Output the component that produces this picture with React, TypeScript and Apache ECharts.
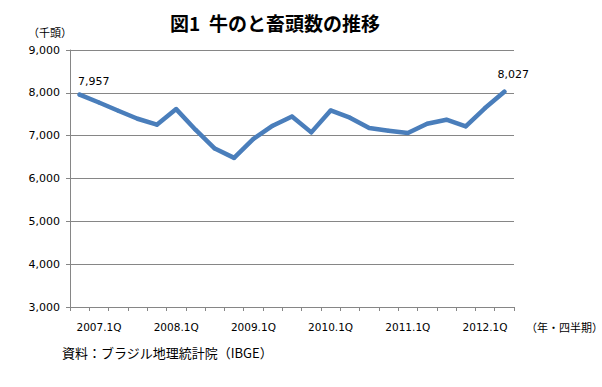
import React, { useEffect, useRef } from "react";
import * as echarts from "echarts";

const categories = [
  "2006.4Q",
  "2007.1Q", "2007.2Q", "2007.3Q", "2007.4Q",
  "2008.1Q", "2008.2Q", "2008.3Q", "2008.4Q",
  "2009.1Q", "2009.2Q", "2009.3Q", "2009.4Q",
  "2010.1Q", "2010.2Q", "2010.3Q", "2010.4Q",
  "2011.1Q", "2011.2Q", "2011.3Q", "2011.4Q",
  "2012.1Q", "2012.2Q",
];

const slaughter = [
  7957, 7774, 7581, 7395, 7256, 7620, 7140, 6700, 6481, 6923, 7233, 7449,
  7077, 7589, 7420, 7179, 7116, 7063, 7279, 7372, 7217, 7644, 8027,
];

const yTicks = { min: 3000, max: 9000, step: 1000 };

const titleText = "図1  牛のと畜頭数の推移";
const yUnit = "（千頭）";
const xUnit = "（年・四半期）";
const sourceText = "資料：ブラジル地理統計院（IBGE）";

const NUM_FONT = "'DejaVu Sans', sans-serif";
const CJK_FONT = "'Noto Sans CJK JP', sans-serif";

export default function App() {
  const ref = useRef<HTMLDivElement>(null);
  useEffect(() => {
    if (!ref.current) return;
    const chart = echarts.init(ref.current, null, { renderer: "svg" });
    const last = slaughter.length - 1;
    const fmt = (v: number) => v.toLocaleString("en-US");
    const labelBase = {
      show: true,
      position: "top",
      formatter: (p: any) => fmt(p.value),
      fontFamily: NUM_FONT,
      fontSize: 11,
      color: "#000",
      distance: 6,
    };
    const data = slaughter.map((v, i) => {
      if (i === 0) {
        return { value: v, label: { ...labelBase, offset: [14, 0] } };
      }
      if (i === last) {
        return { value: v, label: { ...labelBase, offset: [9, -4] } };
      }
      return v;
    });
    chart.setOption({
      animation: false,
      backgroundColor: "#ffffff",
      title: {
        text: titleText,
        left: 270,
        textAlign: "center",
        top: 8,
        textStyle: {
          fontFamily: CJK_FONT,
          fontSize: 19,
          fontWeight: "bold",
          color: "#000",
        },
      },
      graphic: [
        {
          type: "text",
          left: 28,
          top: 26,
          style: { text: yUnit, font: `11px ${CJK_FONT}`, fill: "#000" },
        },
        {
          type: "text",
          left: 526,
          top: 321,
          style: { text: xUnit, font: `11px ${CJK_FONT}`, fill: "#000" },
        },
        {
          type: "text",
          left: 62,
          top: 346,
          style: { text: sourceText, font: `13px ${CJK_FONT}`, fill: "#000" },
        },
      ],
      grid: { left: 70, right: 88, top: 50, bottom: 80 },
      xAxis: {
        type: "category",
        data: categories,
        boundaryGap: true,
        axisLine: { lineStyle: { color: "#868686", width: 1 } },
        axisTick: {
          show: true,
          interval: 0,
          length: 4,
          lineStyle: { color: "#868686" },
        },
        axisLabel: {
          interval: (index: number) => index % 4 === 1,
          margin: 14,
          fontFamily: NUM_FONT,
          fontSize: 10.5,
          color: "#000",
        },
      },
      yAxis: {
        type: "value",
        min: yTicks.min,
        max: yTicks.max,
        interval: yTicks.step,
        axisLine: { show: true, lineStyle: { color: "#868686", width: 1 } },
        axisTick: { show: true, length: 4, lineStyle: { color: "#868686" } },
        splitLine: { lineStyle: { color: "#868686", width: 1 } },
        axisLabel: {
          formatter: (v: number) => fmt(v),
          margin: 10,
          fontFamily: NUM_FONT,
          fontSize: 11,
          color: "#000",
        },
      },
      series: [
        {
          type: "line",
          data,
          symbol: "circle",
          symbolSize: 4,
          showSymbol: true,
          lineStyle: { color: "#4a7ebb", width: 4.5, join: "round", cap: "round" },
          itemStyle: { color: "#4a7ebb", borderWidth: 0 },
          emphasis: { disabled: true },
          label: { show: false },
        },
      ],
    });
    return () => chart.dispose();
  }, []);
  return (
    <div
      ref={ref}
      style={{ position: "fixed", left: 0, top: 0, width: 602, height: 387 }}
    />
  );
}
